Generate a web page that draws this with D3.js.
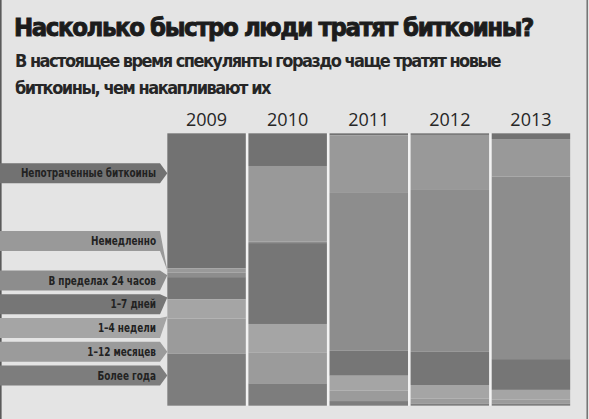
<!DOCTYPE html>
<html>
<head>
<meta charset="utf-8">
<script src="https://cdn.jsdelivr.net/npm/d3@7"></script>
<style>
  html, body { margin: 0; padding: 0; background: #e4e4e4; }
  svg { display: block; }
</style>
</head>
<body>
<svg id="chart" width="589" height="419"></svg>
<script>
// ---- data (percent of each year's coins) ----
const years = ["2009", "2010", "2011", "2012", "2013"];
const categories = ["Непотраченные биткоины", "Немедленно", "В пределах 24 часов",
                    "1–7 дней", "1–4 недели", "1–12 месяцев", "Более года"];
const unspent     = [49.6, 12.0,  0.8,  0.6,  2.1];
const immediately = [ 1.5, 27.8, 21.1, 20.2, 13.8];
const within24h   = [ 1.7,  0.5, 57.9, 59.4, 67.0];
const days1to7    = [ 8.2, 29.7,  9.2, 12.2, 11.3];
const weeks1to4   = [ 7.0, 10.4,  5.5,  5.0,  3.5];
const months1to12 = [12.9, 11.4,  3.8,  1.8,  1.5];
const overYear    = [19.1,  8.2,  1.7,  0.8,  0.8];
const title = "Насколько быстро люди тратят биткоины?";
const subtitle = ["В настоящее время спекулянты гораздо чаще тратят новые",
                  "биткоины, чем накапливают их"];

// ---- styles / layout ----
const colors = ["#727272", "#999999", "#8d8d8d", "#767676", "#a5a5a5", "#9b9b9b", "#7d7d7d"];
const bannerTops = [163.3, 231, 270.5, 294.2, 318, 341.7, 365.5];
const bannerH = 20;
const series = [unspent, immediately, within24h, days1to7, weeks1to4, months1to12, overYear];
const keys = categories.map((c, i) => "k" + i);
const table = years.map((y, j) => {
  const row = { year: y };
  keys.forEach((k, i) => row[k] = series[i][j]);
  return row;
});
const condensed = "'DejaVu Sans Condensed', 'Liberation Sans Narrow', sans-serif";

const svg = d3.select("#chart");
svg.append("rect").attr("width", 589).attr("height", 419).attr("fill", "#e4e4e4");
svg.append("rect").attr("x", 0).attr("y", 0).attr("width", 1.6).attr("height", 419).attr("fill", "#5a5a5a");
svg.append("rect").attr("x", 586.5).attr("y", 0).attr("width", 1.4).attr("height", 419).attr("fill", "#6a6a6a");

// tighten a text to a target width with letter-spacing
function fit(sel, w) {
  const n = sel.node().getComputedTextLength();
  const c = sel.text().length;
  if (n > w) sel.attr("letter-spacing", ((w - n) / c).toFixed(3));
  return sel;
}

// title & subtitle
fit(svg.append("text").attr("x", 14).attr("y", 35.5)
  .attr("font-family", condensed)
  .attr("font-weight", 700).attr("font-size", 25.5).attr("fill", "#1c1c1c")
  .attr("stroke", "#1c1c1c").attr("stroke-width", 0.9)
  .text(title), 519);
const subWidths = [485, 255];
subtitle.forEach((s, i) => {
  fit(svg.append("text").attr("x", 15).attr("y", 67 + i * 27)
    .attr("font-family", condensed)
    .attr("font-weight", 700).attr("font-size", 18).attr("fill", "#262626")
    .text(s), subWidths[i]);
});

// scales
const x = d3.scaleBand().domain(years).range([167.3, 570.2]).paddingInner(0.032).paddingOuter(0);
const y = d3.scaleLinear().domain([0, 100]).range([133.3, 405.7]);
const stacked = d3.stack().keys(keys)(table);

// light gaps between bars
svg.append("rect").attr("x", x.range()[0]).attr("y", y(0))
  .attr("width", x.range()[1] - x.range()[0]).attr("height", y(100) - y(0))
  .attr("fill", "#f2f2f2");

svg.append("g").selectAll("g").data(stacked).join("g")
  .attr("fill", (d, i) => colors[i])
  .selectAll("rect").data(d => d).join("rect")
  .attr("x", d => x(d.data.year))
  .attr("width", x.bandwidth())
  .attr("y", d => y(d[0]))
  .attr("height", d => y(d[1]) - y(d[0]));

// year labels (top axis)
const axis = d3.axisTop(x).tickSize(0).tickPadding(0);
const ag = svg.append("g").attr("transform", `translate(0,${y(0) - 7})`).call(axis);
ag.select(".domain").remove();
ag.selectAll("text").attr("font-family", "'Open Sans', 'Noto Sans', sans-serif")
  .attr("font-size", 18).attr("fill", "#262626").attr("dy", 0);

// banners pointing to the 2009 bar
const first = stacked.map(s => s[0]);
const bx = 160, tipX = x(years[0]);
const bg = svg.append("g");
categories.forEach((c, i) => {
  const top = bannerTops[i], bot = top + bannerH, mid = top + bannerH / 2;
  const segTop = y(first[i][0]), segBot = y(first[i][1]);
  const tip = Math.max(segTop + 2, Math.min(segBot - 2, mid));
  const pts = [[0, top], [bx, top], [tipX, tip], [bx, bot], [0, bot]];
  bg.append("polygon").attr("points", pts.map(p => p.join(",")).join(" "))
    .attr("fill", colors[i]);
  const t = bg.append("text").attr("x", bx - 4).attr("y", mid + 4)
    .attr("text-anchor", "end")
    .attr("font-family", condensed)
    .attr("font-weight", 700).attr("font-size", 11.5).attr("fill", "#222")
    .text(c);
  const w = t.node().getComputedTextLength();
  t.attr("textLength", w * 0.86).attr("lengthAdjust", "spacingAndGlyphs");
});
</script>
</body>
</html>
